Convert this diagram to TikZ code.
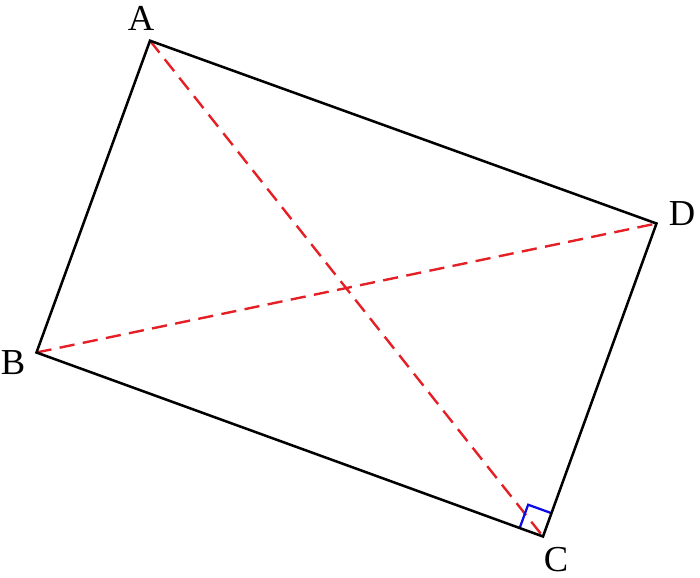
\documentclass[tikz,border=0pt]{standalone}
\usepackage{fontspec}
\setmainfont{Liberation Serif}
\usetikzlibrary{calc}
\begin{document}
\begin{tikzpicture}[x=0.025cm,y=-0.025cm,
  side/.style={line width=1.8pt,black,line join=miter},
  diag/.style={line width=1.7pt,color=diagred,dash pattern=on 0.38cm off 0.21cm},
  rmark/.style={line width=1.6pt,color=markblue},
  lbl/.style={font=\fontsize{26}{30}\selectfont,inner sep=0pt}]
\definecolor{diagred}{RGB}{228,32,38}
\definecolor{markblue}{RGB}{10,10,230}
\useasboundingbox (0,0) rectangle (700,578);
\coordinate (A) at (150,40.7);
\coordinate (B) at (36.5,352.5);
\coordinate (C) at (543,536.5);
\coordinate (D) at (656.5,223.5);
\draw[diag] (A) -- (C);
\draw[diag] (B) -- (D);
\coordinate (m1) at ($(C)!0.62cm!(B)$);
\coordinate (m3) at ($(C)!0.62cm!(D)$);
\draw[rmark] (m1) -- ($(m1)+(m3)-(C)$) -- (m3);
\draw[side] (A) -- (D) -- (C) -- (B) -- cycle;
\node[lbl] (lA) at (141,18) {A};
\node[lbl] (lB) at (13,363) {B};
\node[lbl] (lC) at (556,559.5) {C};
\node[lbl] (lD) at (682,214) {D};
\end{tikzpicture}
\end{document}
